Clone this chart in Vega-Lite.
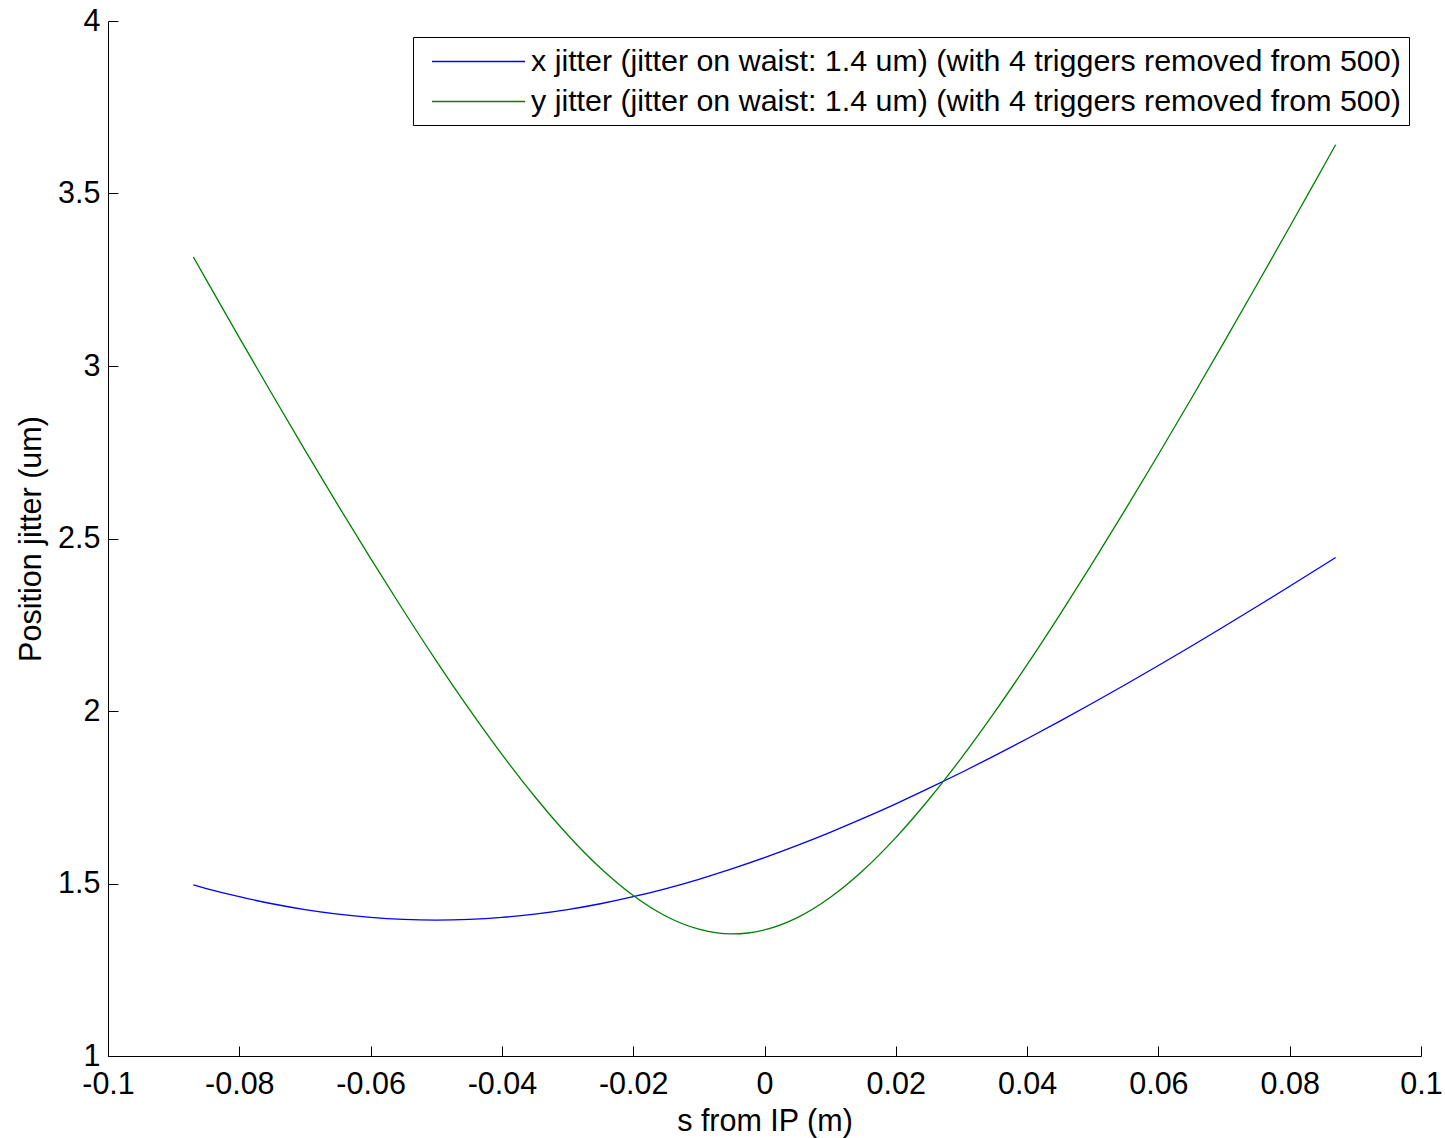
{
  "$schema": "https://vega.github.io/schema/vega-lite/v6.json",
  "width": 1313,
  "height": 1035,
  "autosize": {"type": "none"},
  "padding": {"left": 108, "top": 21, "right": 24, "bottom": 82},
  "background": "white",
  "config": {
    "view": {"stroke": null},
    "font": "Liberation Sans",
    "axis": {
      "labelFont": "Liberation Sans",
      "labelFontSize": 30.5,
      "labelColor": "black",
      "titleFont": "Liberation Sans",
      "titleFontSize": 30.5,
      "titleFontWeight": "normal",
      "titleColor": "black",
      "domainColor": "black",
      "tickColor": "black",
      "domainWidth": 1,
      "tickWidth": 1,
      "grid": false
    },
    "legend": {
      "labelFont": "Liberation Sans",
      "labelFontSize": 30.4,
      "labelColor": "black",
      "labelLimit": 2000
    }
  },
  "data": {
    "values": [
      {"s": -0.087, "jitter": 1.4958, "series": "x"},
      {"s": -0.085, "jitter": 1.4854, "series": "x"},
      {"s": -0.080, "jitter": 1.4617, "series": "x"},
      {"s": -0.075, "jitter": 1.4413, "series": "x"},
      {"s": -0.070, "jitter": 1.4244, "series": "x"},
      {"s": -0.065, "jitter": 1.4112, "series": "x"},
      {"s": -0.060, "jitter": 1.4016, "series": "x"},
      {"s": -0.055, "jitter": 1.3958, "series": "x"},
      {"s": -0.050, "jitter": 1.3939, "series": "x"},
      {"s": -0.045, "jitter": 1.3958, "series": "x"},
      {"s": -0.040, "jitter": 1.4016, "series": "x"},
      {"s": -0.035, "jitter": 1.4112, "series": "x"},
      {"s": -0.030, "jitter": 1.4244, "series": "x"},
      {"s": -0.025, "jitter": 1.4413, "series": "x"},
      {"s": -0.020, "jitter": 1.4617, "series": "x"},
      {"s": -0.015, "jitter": 1.4854, "series": "x"},
      {"s": -0.010, "jitter": 1.5123, "series": "x"},
      {"s": -0.005, "jitter": 1.5422, "series": "x"},
      {"s": 0.000, "jitter": 1.5750, "series": "x"},
      {"s": 0.005, "jitter": 1.6104, "series": "x"},
      {"s": 0.010, "jitter": 1.6483, "series": "x"},
      {"s": 0.015, "jitter": 1.6886, "series": "x"},
      {"s": 0.020, "jitter": 1.7310, "series": "x"},
      {"s": 0.025, "jitter": 1.7755, "series": "x"},
      {"s": 0.030, "jitter": 1.8218, "series": "x"},
      {"s": 0.035, "jitter": 1.8699, "series": "x"},
      {"s": 0.040, "jitter": 1.9195, "series": "x"},
      {"s": 0.045, "jitter": 1.9706, "series": "x"},
      {"s": 0.050, "jitter": 2.0231, "series": "x"},
      {"s": 0.055, "jitter": 2.0769, "series": "x"},
      {"s": 0.060, "jitter": 2.1318, "series": "x"},
      {"s": 0.065, "jitter": 2.1878, "series": "x"},
      {"s": 0.070, "jitter": 2.2448, "series": "x"},
      {"s": 0.075, "jitter": 2.3027, "series": "x"},
      {"s": 0.080, "jitter": 2.3615, "series": "x"},
      {"s": 0.085, "jitter": 2.4210, "series": "x"},
      {"s": 0.087, "jitter": 2.4451, "series": "x"},
      {"s": -0.087, "jitter": 3.3159, "series": "y"},
      {"s": -0.085, "jitter": 3.2489, "series": "y"},
      {"s": -0.080, "jitter": 3.0824, "series": "y"},
      {"s": -0.075, "jitter": 2.9182, "series": "y"},
      {"s": -0.070, "jitter": 2.7563, "series": "y"},
      {"s": -0.065, "jitter": 2.5975, "series": "y"},
      {"s": -0.060, "jitter": 2.4423, "series": "y"},
      {"s": -0.055, "jitter": 2.2913, "series": "y"},
      {"s": -0.050, "jitter": 2.1455, "series": "y"},
      {"s": -0.045, "jitter": 2.0060, "series": "y"},
      {"s": -0.040, "jitter": 1.8743, "series": "y"},
      {"s": -0.035, "jitter": 1.7521, "series": "y"},
      {"s": -0.030, "jitter": 1.6413, "series": "y"},
      {"s": -0.025, "jitter": 1.5447, "series": "y"},
      {"s": -0.020, "jitter": 1.4650, "series": "y"},
      {"s": -0.015, "jitter": 1.4050, "series": "y"},
      {"s": -0.010, "jitter": 1.3674, "series": "y"},
      {"s": -0.0075, "jitter": 1.3575, "series": "y"},
      {"s": -0.005, "jitter": 1.3539, "series": "y"},
      {"s": -0.0025, "jitter": 1.3565, "series": "y"},
      {"s": 0.000, "jitter": 1.3654, "series": "y"},
      {"s": 0.005, "jitter": 1.4011, "series": "y"},
      {"s": 0.010, "jitter": 1.4595, "series": "y"},
      {"s": 0.015, "jitter": 1.5377, "series": "y"},
      {"s": 0.020, "jitter": 1.6331, "series": "y"},
      {"s": 0.025, "jitter": 1.7428, "series": "y"},
      {"s": 0.030, "jitter": 1.8642, "series": "y"},
      {"s": 0.035, "jitter": 1.9952, "series": "y"},
      {"s": 0.040, "jitter": 2.1341, "series": "y"},
      {"s": 0.045, "jitter": 2.2795, "series": "y"},
      {"s": 0.050, "jitter": 2.4300, "series": "y"},
      {"s": 0.055, "jitter": 2.5850, "series": "y"},
      {"s": 0.060, "jitter": 2.7435, "series": "y"},
      {"s": 0.065, "jitter": 2.9050, "series": "y"},
      {"s": 0.070, "jitter": 3.0692, "series": "y"},
      {"s": 0.075, "jitter": 3.2354, "series": "y"},
      {"s": 0.080, "jitter": 3.4035, "series": "y"},
      {"s": 0.085, "jitter": 3.5733, "series": "y"},
      {"s": 0.087, "jitter": 3.6414, "series": "y"}
    ]
  },
  "mark": {"type": "line", "strokeWidth": 1.3, "interpolate": "monotone"},
  "encoding": {
    "x": {
      "field": "s",
      "type": "quantitative",
      "scale": {"domain": [-0.1, 0.1], "nice": false, "zero": false},
      "axis": {
        "title": "s from IP (m)",
        "values": [-0.1, -0.08, -0.06, -0.04, -0.02, 0, 0.02, 0.04, 0.06, 0.08, 0.1],
        "format": "~g",
        "labelExpr": "replace(datum.label, '\u2212', '-')",
        "tickSize": -10,
        "labelPadding": 23,
        "labelFlush": false,
        "labelOverlap": false,
        "titlePadding": 7
      }
    },
    "y": {
      "field": "jitter",
      "type": "quantitative",
      "scale": {"domain": [1, 4], "nice": false, "zero": false},
      "axis": {
        "title": "Position jitter (um)",
        "values": [1, 1.5, 2, 2.5, 3, 3.5, 4],
        "format": "~g",
        "tickSize": -10,
        "labelPadding": 18,
        "labelFlush": false,
        "labelOverlap": false,
        "titleX": -77,
        "titleBaseline": "middle"
      }
    },
    "color": {
      "field": "series",
      "type": "nominal",
      "scale": {"domain": ["x", "y"], "range": ["#0000ff", "#008000"]},
      "legend": {
        "title": null,
        "orient": "none",
        "legendX": 305,
        "legendY": 16,
        "labelExpr": "datum.value == 'x' ? 'x jitter (jitter on waist: 1.4 um) (with 4 triggers removed from 500)' : 'y jitter (jitter on waist: 1.4 um) (with 4 triggers removed from 500)'",
        "symbolType": "M-1,0L5,0",
        "symbolSize": 961,
        "symbolStrokeWidth": 1.3,
        "symbolOffset": 10,
        "labelOffset": 67,
        "rowPadding": 8,
        "padding": 8,
        "strokeColor": "black",
        "fillColor": "white"
      }
    }
  }
}
